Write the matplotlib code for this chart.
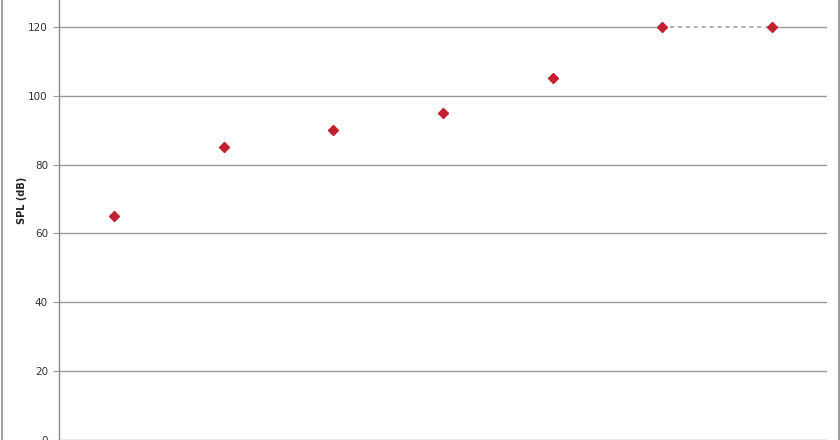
import matplotlib
matplotlib.use("Agg")
import matplotlib.pyplot as plt
from matplotlib.patches import Rectangle

categories = ["1", "2", "3", "4", "5", "6", "7"]
spl_db = [65, 85, 90, 95, 105, 120, 120]
y_ticks = [0, 20, 40, 60, 80, 100, 120]

fig = plt.figure(figsize=(8.4, 4.4), dpi=100)
fig.patch.set_facecolor("white")

# outer chart border
fig.add_artist(Rectangle((1.5 / 840, -0.1), 837 / 840, 1.2, transform=fig.transFigure,
                         fill=False, edgecolor="#8c8c8c", linewidth=1.2))

ax = fig.add_axes([59 / 840, 0.0, 768 / 840, 1.0])
x = list(range(len(categories)))
ax.set_xlim(-0.5, len(categories) - 0.5)
ax.set_ylim(0, 127.8)

ax.set_yticks(y_ticks)
ax.set_yticklabels([str(v) for v in y_ticks], fontsize=7.5, color="#333333")
ax.tick_params(axis="y", length=4, color="#999999", pad=4)
ax.set_xticks([])
for v in y_ticks:
    ax.axhline(v, color="#9a9a9a", linewidth=1.0, zorder=1)

for s in ["top", "right", "bottom"]:
    ax.spines[s].set_visible(False)
ax.spines["left"].set_color("#8c8c8c")
ax.spines["left"].set_linewidth(1.0)

# dotted connector between the last two points (drawn over the gridline)
ax.plot(x[5:7], spl_db[5:7], linestyle="-", color="white", linewidth=2.0, zorder=2)
ax.plot(x[5:7], spl_db[5:7], linestyle=(0, (2.2, 2.2)), color="#a8a8a8", linewidth=1.3, zorder=2.5)
ax.plot(x, spl_db, linestyle="none", marker="D", markersize=5.5,
        color="#C0202F", markeredgecolor="#C0202F", zorder=3)

fig.text(22 / 840, 1 - 200 / 440, "SPL (dB)", rotation=90, ha="center", va="center",
         fontsize=7, fontweight="bold", color="#222222")

fig.savefig("out.png", dpi=100)
